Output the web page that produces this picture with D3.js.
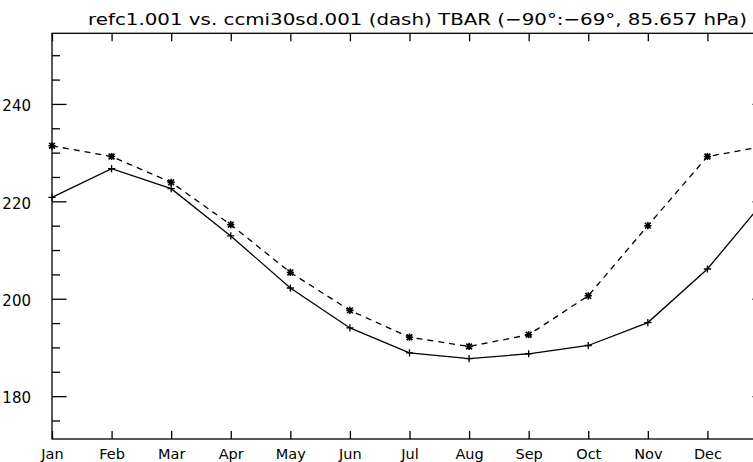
<!DOCTYPE html>
<html>
<head>
<meta charset="utf-8">
<script src="https://cdn.jsdelivr.net/npm/d3@7"></script>
<style>
  html, body { margin: 0; padding: 0; background: #fff; overflow: hidden; }
  svg { display: block; }
  text { font-family: "DejaVu Sans", sans-serif; fill: #000; }
</style>
</head>
<body>
<svg id="chart"></svg>
<script>
// monthly values, Jan repeated at the end to close the cycle
const months = ["Jan", "Feb", "Mar", "Apr", "May", "Jun", "Jul", "Aug", "Sep", "Oct", "Nov", "Dec"];
const refc = [220.8, 226.7, 222.6, 212.9, 202.2, 194.0, 188.9, 187.7, 188.7, 190.4, 195.1, 206.1];
const ccmi = [231.4, 229.2, 223.9, 215.2, 205.4, 197.6, 192.1, 190.2, 192.6, 200.6, 215.0, 229.2];
const yMajor = [180, 200, 220, 240];
const yMinor = [175, 185, 190, 195, 205, 210, 215, 225, 230, 235, 245, 250];
const title = "refc1.001 vs. ccmi30sd.001 (dash) TBAR (\u221290\u00b0:\u221269\u00b0, 85.657 hPa)";

const width = 753, height = 462;
const plotL = 52, plotR = 767, plotT = 33.3, plotB = 439;

const svg = d3.select("#chart").attr("width", width).attr("height", height);

const x = d3.scaleLinear().domain([0, 12]).range([plotL, plotR]);
const y = d3.scaleLinear().domain([171.2, 254.5]).range([plotB, plotT]);

const monthIdx = d3.range(12);

// frame
svg.append("rect")
  .attr("x", plotL).attr("y", plotT)
  .attr("width", plotR - plotL).attr("height", plotB - plotT)
  .attr("fill", "none").attr("stroke", "#000").attr("stroke-width", 1.3);

function tidy(g) {
  g.select(".domain").remove();
  g.selectAll("line").attr("stroke", "#000").attr("stroke-width", 1.3);
}

// x axes (bottom with labels, top ticks only)
svg.append("g")
  .attr("transform", `translate(0,${plotB})`)
  .call(d3.axisBottom(x).tickValues(monthIdx).tickSize(-8).tickPadding(10)
    .tickFormat(i => months[i]))
  .call(tidy)
  .call(g => g.selectAll("text").attr("font-size", 14.5).attr("dy", "0.71em"));

svg.append("g")
  .attr("transform", `translate(0,${plotT})`)
  .call(d3.axisTop(x).tickValues(monthIdx).tickSize(-8).tickFormat(""))
  .call(tidy);

// y axes
svg.append("g")
  .attr("transform", `translate(${plotL},0)`)
  .call(d3.axisLeft(y).tickValues(yMajor).tickSize(-14.5).tickPadding(21).tickFormat(d3.format("d")))
  .call(tidy)
  .call(g => g.selectAll("text").attr("font-size", 15).attr("dy", "0.45em"));

svg.append("g")
  .attr("transform", `translate(${plotL},0)`)
  .call(d3.axisLeft(y).tickValues(yMinor).tickSize(-8).tickFormat(""))
  .call(tidy);

svg.append("g")
  .attr("transform", `translate(${plotR},0)`)
  .call(d3.axisRight(y).tickValues(yMajor).tickSize(-14.5).tickFormat(""))
  .call(tidy);

svg.append("g")
  .attr("transform", `translate(${plotR},0)`)
  .call(d3.axisRight(y).tickValues(yMinor).tickSize(-8).tickFormat(""))
  .call(tidy);

// title
svg.append("text")
  .attr("x", 88).attr("y", 25)
  .attr("font-size", 16.5)
  .attr("textLength", 659)
  .attr("lengthAdjust", "spacingAndGlyphs")
  .text(title);

// lines
const line = d3.line().x((d, i) => x(i)).y(d => y(d));
const closed = arr => arr.concat([arr[0]]);

const plot = svg.append("g");

plot.append("path")
  .datum(closed(refc))
  .attr("fill", "none").attr("stroke", "#000").attr("stroke-width", 1.3)
  .attr("d", line);

plot.append("path")
  .datum(closed(ccmi))
  .attr("fill", "none").attr("stroke", "#000").attr("stroke-width", 1.3)
  .attr("stroke-dasharray", "6,5")
  .attr("d", line);

// markers: plus for refc, asterisk for ccmi
const s = 3.6;
const plusPath = `M${-s},0H${s}M0,${-s}V${s}`;
const d = s * 0.8;
const starPath = plusPath + `M${-d},${-d}L${d},${d}M${-d},${d}L${d},${-d}`;

plot.selectAll(".plus")
  .data(closed(refc))
  .enter().append("path")
  .attr("class", "plus")
  .attr("transform", (v, i) => `translate(${x(i)},${y(v)})`)
  .attr("d", plusPath)
  .attr("stroke", "#000").attr("stroke-width", 1.3).attr("fill", "none");

plot.selectAll(".star")
  .data(closed(ccmi))
  .enter().append("path")
  .attr("class", "star")
  .attr("transform", (v, i) => `translate(${x(i)},${y(v)})`)
  .attr("d", starPath)
  .attr("stroke", "#000").attr("stroke-width", 1.6).attr("fill", "none");
</script>
</body>
</html>
